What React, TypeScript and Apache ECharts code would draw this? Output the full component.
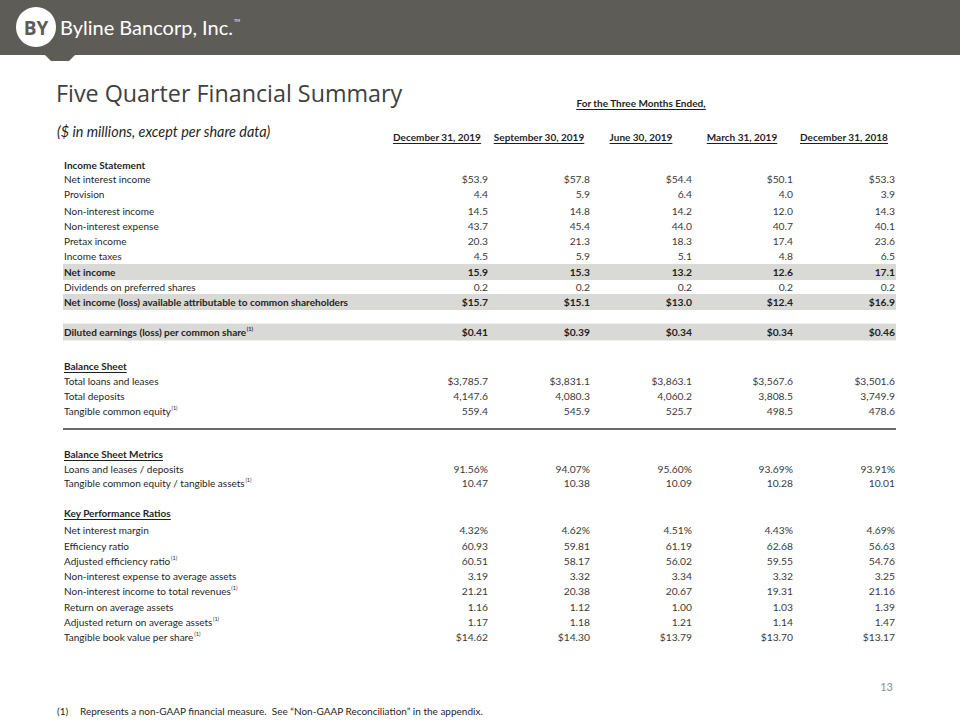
import React, { useEffect, useRef } from "react";
import * as echarts from "echarts";

const periods = ["December 31, 2019", "September 30, 2019", "June 30, 2019", "March 31, 2019", "December 31, 2018"];
const periodGroupTitle = "For the Three Months Ended,";

const incomeTitle = "Income Statement";
const incomeLabels = [
  "Net interest income",
  "Provision",
  "Non-interest income",
  "Non-interest expense",
  "Pretax income",
  "Income taxes",
  "Net income",
  "Dividends on preferred shares",
  "Net income (loss) available attributable to common shareholders",
];
const incomeValues = [
  ["$53.9", "$57.8", "$54.4", "$50.1", "$53.3"],
  ["4.4", "5.9", "6.4", "4.0", "3.9"],
  ["14.5", "14.8", "14.2", "12.0", "14.3"],
  ["43.7", "45.4", "44.0", "40.7", "40.1"],
  ["20.3", "21.3", "18.3", "17.4", "23.6"],
  ["4.5", "5.9", "5.1", "4.8", "6.5"],
  ["15.9", "15.3", "13.2", "12.6", "17.1"],
  ["0.2", "0.2", "0.2", "0.2", "0.2"],
  ["$15.7", "$15.1", "$13.0", "$12.4", "$16.9"],
];

const epsLabel = "Diluted earnings (loss) per common share(1)";
const epsValues = ["$0.41", "$0.39", "$0.34", "$0.34", "$0.46"];

const balanceTitle = "Balance Sheet";
const balanceLabels = ["Total loans and leases", "Total deposits", "Tangible common equity(1)"];
const balanceValues = [
  ["$3,785.7", "$3,831.1", "$3,863.1", "$3,567.6", "$3,501.6"],
  ["4,147.6", "4,080.3", "4,060.2", "3,808.5", "3,749.9"],
  ["559.4", "545.9", "525.7", "498.5", "478.6"],
];

const metricTitle = "Balance Sheet Metrics";
const metricLabels = ["Loans and leases / deposits", "Tangible common equity / tangible assets(1)"];
const metricValues = [
  ["91.56%", "94.07%", "95.60%", "93.69%", "93.91%"],
  ["10.47", "10.38", "10.09", "10.28", "10.01"],
];

const ratioTitle = "Key Performance Ratios";
const ratioLabels = [
  "Net interest margin",
  "Efficiency ratio",
  "Adjusted efficiency ratio(1)",
  "Non-interest expense to average assets",
  "Non-interest income to total revenues(1)",
  "Return on average assets",
  "Adjusted return on average assets(1)",
  "Tangible book value per share(1)",
];
const ratioValues = [
  ["4.32%", "4.62%", "4.51%", "4.43%", "4.69%"],
  ["60.93", "59.81", "61.19", "62.68", "56.63"],
  ["60.51", "58.17", "56.02", "59.55", "54.76"],
  ["3.19", "3.32", "3.34", "3.32", "3.25"],
  ["21.21", "20.38", "20.67", "19.31", "21.16"],
  ["1.16", "1.12", "1.00", "1.03", "1.39"],
  ["1.17", "1.18", "1.21", "1.14", "1.47"],
  ["$14.62", "$14.30", "$13.79", "$13.70", "$13.17"],
];

const companyName = "Byline Bancorp, Inc.";
const slideTitle = "Five Quarter Financial Summary";
const slideSubtitle = "($ in millions, except per share data)";
const footnoteMark = "(1)";
const footnoteText = "Represents a non-GAAP financial measure.  See \u201cNon-GAAP Reconciliation\u201d in the appendix.";
const pageNumber = "13";

export default function App() {
  const ref = useRef<HTMLDivElement>(null);

  useEffect(() => {
    document.body.style.margin = "0";
    if (!ref.current) return;
    const chart = echarts.init(ref.current, undefined, { renderer: "svg" });

    const canvas = document.createElement("canvas");
    const ctx = canvas.getContext("2d")!;
    const tw = (t: string, font: string) => {
      ctx.font = font;
      return ctx.measureText(t).width;
    };

    const FAM = "Lato";
    const SZ = 10;
    const LABEL_X = 64;
    const colRight = [488, 590, 692, 793, 895];
    const COLW = 102;
    const labelColor = "#1f1f1f";
    const valueColor = "#3a3a3a";
    const band = "#d9d9d6";

    const g: any[] = [];

    const text = (t: string, x: number, y: number, o: any = {}) => {
      const weight = o.bold ? "bold" : "normal";
      const size = o.size || SZ;
      const family = o.family || FAM;
      const style = o.italic ? "italic" : "normal";
      g.push({
        type: "text",
        x,
        y,
        silent: true,
        style: {
          text: t,
          fill: o.color || labelColor,
          fontFamily: family,
          fontSize: size,
          fontWeight: weight,
          fontStyle: style,
          textAlign: o.align || "left",
          textVerticalAlign: "middle",
        },
      });
      const font = `${style} ${weight} ${size}px ${family}`;
      return tw(t, font);
    };

    const underline = (x1: number, x2: number, y: number, color = "#1f1f1f") => {
      g.push({
        type: "line",
        silent: true,
        shape: { x1, y1: y, x2, y2: y },
        style: { stroke: color, lineWidth: 1 },
      });
    };

    const label = (t: string, y: number, bold = false, ul = false) => {
      const sup = t.endsWith("(1)");
      const main = sup ? t.slice(0, -3) : t;
      const w = text(main, LABEL_X, y, { bold });
      if (sup) text("(1)", LABEL_X + w + 0.5, y - 3, { size: 5.5, bold });
      if (ul) underline(LABEL_X, LABEL_X + w, y + 6.5);
    };

    const values = (vals: string[], y: number, bold = false) => {
      vals.forEach((v, i) =>
        text(v, colRight[i], y, { bold, size: 10.3, align: "right", color: bold ? "#1f1f1f" : valueColor })
      );
    };

    const shade = (y: number, h = 16) => {
      g.push({ type: "rect", silent: true, shape: { x: 63, y: y - h / 2, width: 896 - 63, height: h }, style: { fill: band } });
    };

    // Header bar
    g.push({ type: "rect", silent: true, shape: { x: 0, y: 0, width: 960, height: 55 }, style: { fill: "#5e5c57" } });
    g.push({
      type: "polygon",
      silent: true,
      shape: { points: [[44, 54], [76, 54], [69, 61], [51, 61]] },
      style: { fill: "#5e5c57" },
    });
    g.push({ type: "circle", silent: true, shape: { cx: 36, cy: 27, r: 20 }, style: { fill: "#ffffff" } });
    text("BY", 36, 28, { bold: true, size: 19, color: "#5e5c57", align: "center", family: "Open Sans" });
    const cw = text(companyName, 60, 27, { size: 20, color: "#ffffff", family: "Lato" });
    text("TM", 60 + cw + 1, 20, { size: 4, color: "#ffffff" });

    // Titles
    text(slideTitle, 56, 93, { size: 23.3, color: "#404040", family: "Open Sans" });
    text(slideSubtitle, 57, 131, { size: 14.4, italic: true, color: "#1f1f1f", family: "Lato" });

    // Column group title
    const gw = text(periodGroupTitle, 641, 103, { bold: true, align: "center" });
    underline(641 - gw / 2, 641 + gw / 2, 109.5);

    periods.forEach((p, i) => {
      const cx = colRight[i] - COLW / 2;
      const w = text(p, cx, 137, { bold: true, align: "center" });
      underline(cx - w / 2, cx + w / 2, 143.5);
    });

    // Income statement
    const incomeY = [179, 194, 211, 226, 241, 256, 272, 287, 302];
    const incomeBold = [false, false, false, false, false, false, true, false, true];
    incomeY.forEach((y, i) => {
      if (incomeBold[i]) shade(y);
    });
    shade(332, 17);

    label(incomeTitle, 165, true);
    incomeLabels.forEach((l, i) => {
      label(l, incomeY[i], incomeBold[i]);
      values(incomeValues[i], incomeY[i], incomeBold[i]);
    });

    label(epsLabel, 332, true);
    values(epsValues, 332, true);

    // Balance sheet
    label(balanceTitle, 366, true, true);
    const balanceY = [381, 396, 411];
    balanceLabels.forEach((l, i) => {
      label(l, balanceY[i]);
      values(balanceValues[i], balanceY[i]);
    });

    g.push({
      type: "line",
      silent: true,
      shape: { x1: 63, y1: 429, x2: 896, y2: 429 },
      style: { stroke: "#3a3a3a", lineWidth: 1.5 },
    });

    // Balance sheet metrics
    label(metricTitle, 454, true, true);
    const metricY = [469, 483];
    metricLabels.forEach((l, i) => {
      label(l, metricY[i]);
      values(metricValues[i], metricY[i]);
    });

    // Key performance ratios
    label(ratioTitle, 513, true, true);
    const ratioY = [530, 546, 561, 576, 591, 607, 622, 637];
    ratioLabels.forEach((l, i) => {
      label(l, ratioY[i]);
      values(ratioValues[i], ratioY[i]);
    });

    // Page number and footnote
    text(pageNumber, 893, 686, { size: 11, color: "#8c8c8c", align: "right" });
    text(footnoteMark, 57, 711, { size: 10 });
    text(footnoteText, 80, 711, { size: 10 });

    chart.setOption({
      animation: false,
      backgroundColor: "#ffffff",
      graphic: { elements: g },
    });

    return () => chart.dispose();
  }, []);

  return <div ref={ref} style={{ width: 960, height: 720 }} />;
}
